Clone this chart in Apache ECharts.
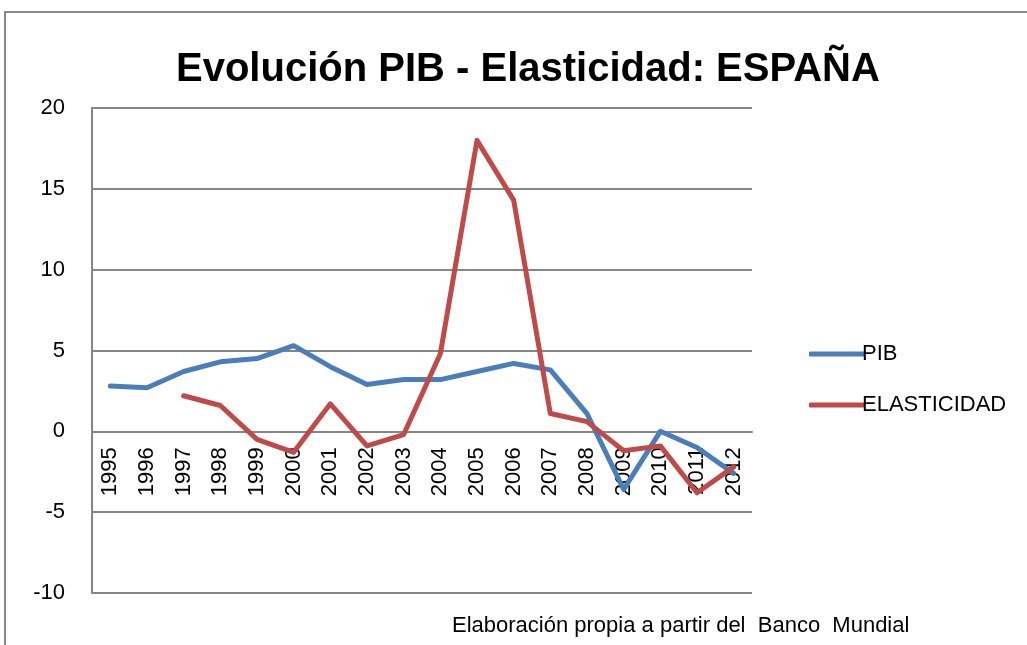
<!DOCTYPE html>
<html>
<head>
<meta charset="utf-8">
<script src="https://cdn.jsdelivr.net/npm/echarts@6/dist/echarts.min.js"></script>
<style>html,body{margin:0;padding:0;background:#fff}#c{width:1027px;height:645px}</style>
</head>
<body>
<div id="c"></div>
<script>
const years = ['1995','1996','1997','1998','1999','2000','2001','2002','2003','2004','2005','2006','2007','2008','2009','2010','2011','2012'];
const pib = [2.8, 2.7, 3.7, 4.3, 4.5, 5.3, 4.0, 2.9, 3.2, 3.2, 3.7, 4.2, 3.8, 1.1, -3.6, 0.0, -1.0, -2.6];
const elasticidad = [null, null, 2.2, 1.6, -0.5, -1.3, 1.7, -0.9, -0.2, 4.8, 18.0, 14.3, 1.1, 0.6, -1.2, -0.9, -3.8, -2.2];
const yTicks = {min: -10, max: 20, step: 5};
const titleText = 'Evolución PIB - Elasticidad: ESPAÑA';
const sourceText = 'Elaboración propia a partir del  Banco  Mundial';

const W = 1027, H = 645;
const gridTop = 108, gridBottom = 52;
const plotH = H - gridTop - gridBottom;
// move category axis up to the zero line of the value axis
const zeroOffset = -plotH * (0 - yTicks.min) / (yTicks.max - yTicks.min);

const chart = echarts.init(document.getElementById('c'));
const font = 'Liberation Sans';
chart.setOption({
  animation: false,
  textStyle: {fontFamily: font},
  title: {
    text: titleText, left: 176, top: 50, padding: 0,
    textStyle: {fontFamily: font, fontWeight: 'bold', fontSize: 40, color: '#000'}
  },
  grid: {left: 92, right: 275, top: gridTop, bottom: gridBottom},
  legend: {
    orient: 'vertical', left: 804, top: 338, itemGap: 29,
    icon: 'roundRect', itemWidth: 56, itemHeight: 5,
    textStyle: {fontSize: 22, color: '#000', fontFamily: font, padding: [0,0,0,-8]},
    data: ['PIB', 'ELASTICIDAD']
  },
  xAxis: {
    type: 'category', data: years, boundaryGap: true, offset: zeroOffset,
    axisLine: {onZero: false, lineStyle: {color: '#868686', width: 2}},
    axisTick: {show: false},
    axisLabel: {rotate: 90, fontSize: 22, color: '#000', margin: 16, interval: 0}
  },
  yAxis: {
    type: 'value', min: yTicks.min, max: yTicks.max, interval: yTicks.step,
    axisLine: {show: true, lineStyle: {color: '#868686', width: 2}},
    axisTick: {show: false},
    axisLabel: {fontSize: 22, color: '#000', margin: 27},
    splitLine: {lineStyle: {color: '#868686', width: 2}}
  },
  series: [
    {name: 'PIB', type: 'line', data: pib, symbol: 'none', color: '#4A7EBB',
     lineStyle: {width: 5, color: '#4A7EBB', cap: 'round', join: 'round'}},
    {name: 'ELASTICIDAD', type: 'line', data: elasticidad, symbol: 'none', color: '#BE4B48',
     lineStyle: {width: 5, color: '#BE4B48', cap: 'round', join: 'round'}}
  ],
  graphic: [
    {type: 'polyline', shape: {points: [[5, 660], [5, 12], [1040, 12]]},
     style: {stroke: '#888', lineWidth: 2, fill: null}},
    {type: 'text', left: 452, top: 615,
     style: {text: sourceText, fontSize: 22, fill: '#000', fontFamily: font}}
  ]
});
</script>
</body>
</html>
